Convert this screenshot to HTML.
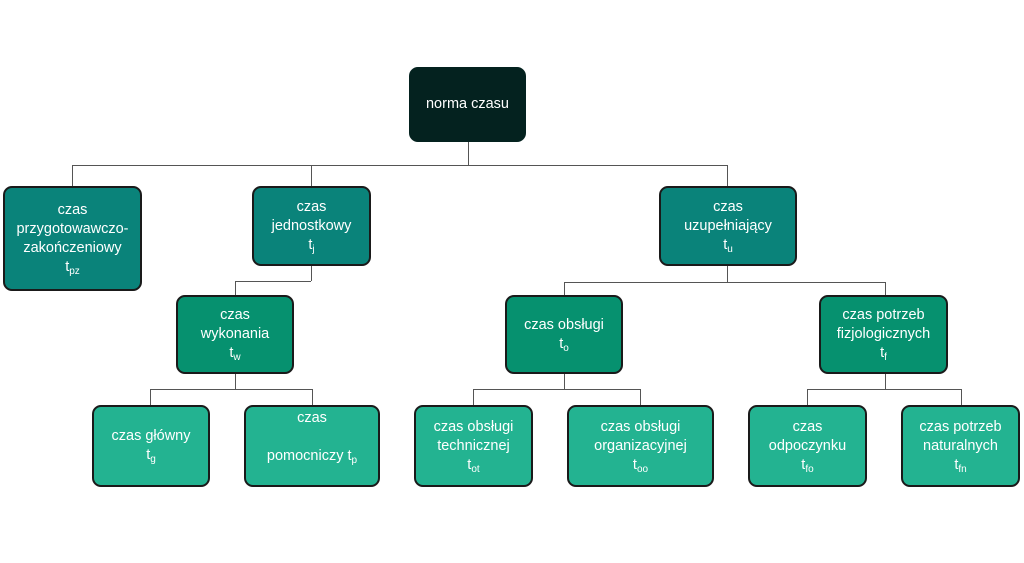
<!DOCTYPE html>
<html><head><meta charset="utf-8"><style>
html,body{margin:0;padding:0;background:#fff;}
#c{position:relative;width:1024px;height:563px;overflow:hidden;font-family:"Liberation Sans",sans-serif;}
.b{position:absolute;box-sizing:border-box;border:2px solid #1a1a1a;border-radius:9px;color:#fff;display:flex;align-items:center;justify-content:center;text-align:center;font-size:14.5px;line-height:19px;}
.b>span{display:block;}
.r{background:#04221f;}
.l1{background:#0a837a;}
.l2{background:#06916f;}
.l3{background:#23b391;}
sub{font-size:10px;vertical-align:-3px;line-height:0;}
.h{position:absolute;height:0;border-top:1.5px solid #555;}
.v{position:absolute;width:0;border-left:1.5px solid #555;}
</style></head><body><div id="c">
<div class="v" style="left:468px;top:141px;height:24px"></div>
<div class="h" style="left:72px;top:165px;width:656px"></div>
<div class="v" style="left:72px;top:165px;height:22px"></div>
<div class="v" style="left:311px;top:165px;height:22px"></div>
<div class="v" style="left:727px;top:165px;height:22px"></div>

<div class="v" style="left:311px;top:264px;height:17px"></div>
<div class="h" style="left:235px;top:281px;width:76px"></div>
<div class="v" style="left:235px;top:281px;height:15px"></div>

<div class="v" style="left:727px;top:264px;height:18px"></div>
<div class="h" style="left:564px;top:282px;width:321px"></div>
<div class="v" style="left:564px;top:282px;height:14px"></div>
<div class="v" style="left:885px;top:282px;height:14px"></div>

<div class="v" style="left:235px;top:372px;height:17px"></div>
<div class="h" style="left:150px;top:389px;width:162px"></div>
<div class="v" style="left:150px;top:389px;height:17px"></div>
<div class="v" style="left:312px;top:389px;height:17px"></div>

<div class="v" style="left:564px;top:372px;height:17px"></div>
<div class="h" style="left:473px;top:389px;width:167px"></div>
<div class="v" style="left:473px;top:389px;height:17px"></div>
<div class="v" style="left:640px;top:389px;height:17px"></div>

<div class="v" style="left:885px;top:372px;height:17px"></div>
<div class="h" style="left:807px;top:389px;width:154px"></div>
<div class="v" style="left:807px;top:389px;height:17px"></div>
<div class="v" style="left:961px;top:389px;height:17px"></div>

<div class="b r" style="left:409px;top:67px;width:117px;height:75px;border-color:#04221f"><span>norma czasu</span></div>

<div class="b l1" style="left:3px;top:186px;width:139px;height:105px"><span>czas<br>przygotowawczo-<br>zakończeniowy<br>t<sub>pz</sub></span></div>
<div class="b l1" style="left:252px;top:186px;width:119px;height:80px"><span>czas<br>jednostkowy<br>t<sub>j</sub></span></div>
<div class="b l1" style="left:659px;top:186px;width:138px;height:80px"><span>czas<br>uzupełniający<br>t<sub>u</sub></span></div>

<div class="b l2" style="left:176px;top:295px;width:118px;height:79px"><span>czas<br>wykonania<br>t<sub>w</sub></span></div>
<div class="b l2" style="left:505px;top:295px;width:118px;height:79px"><span>czas obsługi<br>t<sub>o</sub></span></div>
<div class="b l2" style="left:819px;top:295px;width:129px;height:79px"><span>czas potrzeb<br>fizjologicznych<br>t<sub>f</sub></span></div>

<div class="b l3" style="left:92px;top:405px;width:118px;height:82px"><span>czas główny<br>t<sub>g</sub></span></div>
<div class="b l3" style="left:244px;top:405px;width:136px;height:82px;align-items:flex-start;padding-top:2px"><span>czas<br><br>pomocniczy t<sub>p</sub></span></div>
<div class="b l3" style="left:414px;top:405px;width:119px;height:82px"><span>czas obsługi<br>technicznej<br>t<sub>ot</sub></span></div>
<div class="b l3" style="left:567px;top:405px;width:147px;height:82px"><span>czas obsługi<br>organizacyjnej<br>t<sub>oo</sub></span></div>
<div class="b l3" style="left:748px;top:405px;width:119px;height:82px"><span>czas<br>odpoczynku<br>t<sub>fo</sub></span></div>
<div class="b l3" style="left:901px;top:405px;width:119px;height:82px"><span>czas potrzeb<br>naturalnych<br>t<sub>fn</sub></span></div>
</div></body></html>
